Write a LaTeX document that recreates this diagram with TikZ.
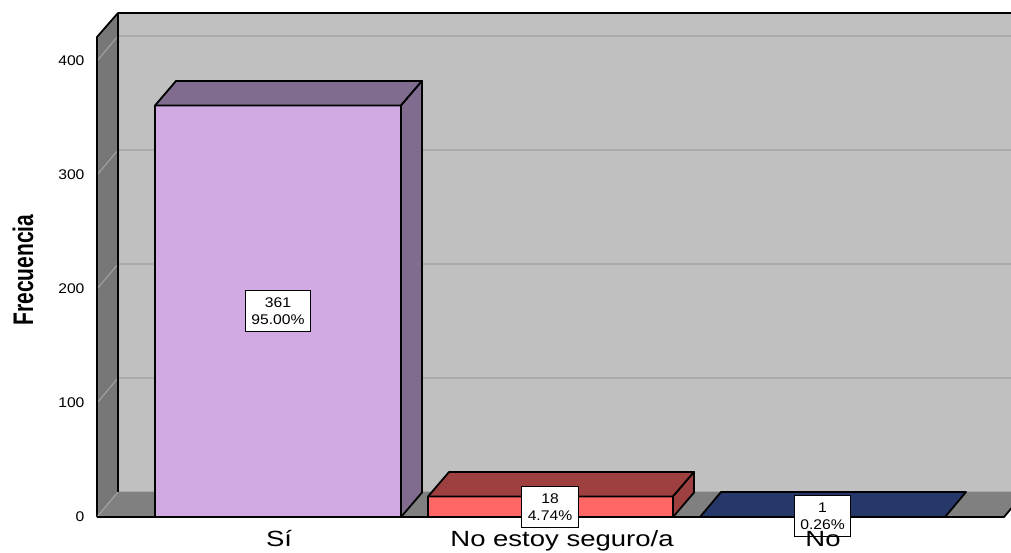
\documentclass[tikz,border=0pt]{standalone}
\usepackage{fontspec}
\usepackage{graphicx}
\setmainfont{Liberation Sans}
\newfontfamily\etiqfont[FakeStretch=1.12]{Liberation Sans}
\newfontfamily\catfont[FakeStretch=1.25]{Liberation Sans}

\definecolor{fondo}{HTML}{C0C0C0}
\definecolor{pared}{HTML}{777777}
\definecolor{suelo}{HTML}{808080}
\definecolor{rejilla}{HTML}{ABABAB}
\definecolor{rejillaLat}{HTML}{A4A4A4}
\definecolor{siFrente}{HTML}{D1A9E3}
\definecolor{siTapa}{HTML}{806C8F}
\definecolor{nsFrente}{HTML}{FF6666}
\definecolor{nsTapa}{HTML}{9E4040}
\definecolor{noTapa}{HTML}{26386A}

\tikzset{
  borde/.style={draw=black, line width=1.8pt, line join=round},
  rejillaFondo/.style={draw=rejilla, line width=1.5pt},
  rejillaPared/.style={draw=rejillaLat, line width=1pt},
  valor/.style={draw=black, fill=white, line width=0.8pt, align=center,
    inner xsep=6pt, inner ysep=7pt, font=\etiqfont\fontsize{14}{16.5}\selectfont},
  marca/.style={anchor=east, font=\etiqfont\fontsize{14}{16}\selectfont},
  categoria/.style={anchor=base, font=\catfont\fontsize{22}{26}\selectfont},
}

\begin{document}
\begin{tikzpicture}[x=1pt, y=-1pt]
	\clip (0,0) rectangle (1011,553);
	\fill[white] (0,0) rectangle (1011,553);

	% Pared del fondo
	\fill[fondo] (118,13) rectangle (1030,492);
	\draw[rejillaFondo] (118,378) -- (1030,378);
	\draw[rejillaFondo] (118,264) -- (1030,264);
	\draw[rejillaFondo] (118,150) -- (1030,150);
	\draw[rejillaFondo] (118,36) -- (1030,36);
	\draw[rejillaFondo] (118,492) -- (1030,492);
	\draw[borde] (118,13) -- (1030,13);

	% Pared lateral
	\fill[pared] (97,37) -- (118,13) -- (118,492) -- (97,517) -- cycle;
	\draw[rejillaPared] (97,403) -- (118,378);
	\draw[rejillaPared] (97,289) -- (118,264);
	\draw[rejillaPared] (97,175) -- (118,150);
	\draw[rejillaPared] (97,61) -- (118,36);
	\draw[rejillaPared] (97,517) -- (118,492);
	\draw[borde] (97,517) -- (97,37) -- (118,13) -- (118,492);

	% Suelo
	\fill[suelo] (97,517) -- (118,492) -- (1025,492) -- (1004,517) -- cycle;
	\draw[rejillaPared] (97,517) -- (118,492);
	\draw[borde] (97,517) -- (1004,517) -- (1025,492);

	% Barras
	\filldraw[borde, fill=siFrente] (155,517) rectangle (401,105.5);
	\filldraw[borde, fill=siTapa] (155,105.5) -- (176,81) -- (422,81) -- (401,105.5) -- cycle;
	\filldraw[borde, fill=siTapa] (401,105.5) -- (422,81) -- (422,492.5) -- (401,517) -- cycle;

	\filldraw[borde, fill=nsFrente] (428,517) rectangle (673,496.5);
	\filldraw[borde, fill=nsTapa] (428,496.5) -- (449,472) -- (694,472) -- (673,496.5) -- cycle;
	\filldraw[borde, fill=nsTapa] (673,496.5) -- (694,472) -- (694,492.5) -- (673,517) -- cycle;

	\filldraw[borde, fill=noTapa] (700,517) -- (721,492) -- (966,492) -- (945,517) -- cycle;

	% Etiquetas de valor
	\node[valor] (vSi) at (278,311) {361\\95.00\%};
	\node[valor] (vNs) at (550,507) {18\\4.74\%};
	\node[valor] (vNo) at (822.5,516) {1\\0.26\%};

	% Eje vertical
	\node[marca] (t0) at (88,517) {0};
	\node[marca] (t100) at (88,403) {100};
	\node[marca] (t200) at (88,289) {200};
	\node[marca] (t300) at (88,175) {300};
	\node[marca] (t400) at (88,61) {400};
	\node[rotate=90] (ejeY) at (23,270) {\scalebox{1}[1.35]{\fontsize{21}{25}\selectfont\bfseries Frecuencia}};

	% Categorias
	\node[categoria] (cSi) at (279,546.5) {Sí};
	\node[categoria] (cNs) at (562,546.5) {No estoy seguro/a};
	\node[categoria] (cNo) at (823,546.5) {No};
\end{tikzpicture}
\end{document}
